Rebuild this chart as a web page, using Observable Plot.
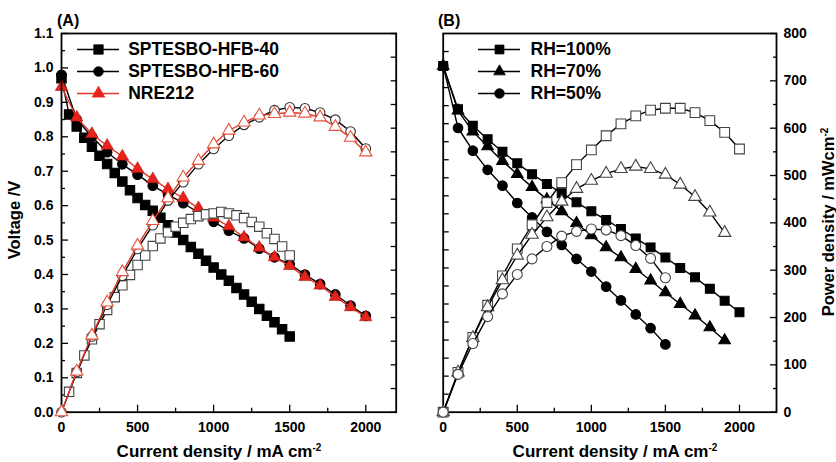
<!DOCTYPE html>
<html><head><meta charset="utf-8">
<script src="https://cdn.jsdelivr.net/npm/d3@7"></script>
<script src="https://cdn.jsdelivr.net/npm/@observablehq/plot@0.6"></script>
<style>
body{margin:0;background:#fff;}
#root{position:relative;width:836px;height:462px;overflow:hidden;font-family:"Liberation Sans",Arial,Helvetica,sans-serif;font-weight:bold;color:#000;}
.layer{position:absolute;top:0;}
.lbl{position:absolute;white-space:nowrap;font-size:16.5px;line-height:16px;}
.lbl sup{font-size:10px;vertical-align:6px;line-height:0;}
</style></head>
<body><div id="root"></div>
<script>
// ---------- Panel A data ----------
const hfb40Current = [0,50,100,150,200,250,300,350,400,450,500,550,600,650,700,750,800,850,900,950,1000,1050,1100,1150,1200,1250,1300,1350,1400,1450,1500];
const hfb40Voltage = [0.97,0.865,0.83,0.797,0.771,0.745,0.721,0.695,0.67,0.645,0.622,0.602,0.585,0.565,0.543,0.522,0.50,0.48,0.46,0.44,0.42,0.40,0.382,0.361,0.342,0.321,0.30,0.28,0.261,0.241,0.22];
const hfb40PowerCurrent = [50,100,150,200,250,300,350,400,450,500,550,600,650,700,750,800,850,900,950,1000,1050,1100,1150,1200,1250,1300,1350,1400,1450,1500];
const hfb40Power = [43,83,120,154,186,216,243,268,290,311,331,351,367,380,392,400,408,414,418,420,423,420,416,410,402,392,378,366,350,331];

const currentA = [0,100,200,300,400,500,600,700,800,900,1000,1100,1200,1300,1400,1500,1600,1700,1800,1900,2000];
const hfb60Voltage = [0.98,0.85,0.80,0.755,0.72,0.69,0.658,0.632,0.607,0.58,0.553,0.527,0.505,0.475,0.45,0.43,0.40,0.372,0.342,0.31,0.28];
const hfb60Power = [0,85,160,227,288,345,395,447,486,524,556,584,607,623,638,644,642,633,618,593,557];
const nreVoltage = [0.945,0.856,0.808,0.774,0.743,0.707,0.677,0.648,0.622,0.593,0.565,0.54,0.508,0.478,0.45,0.425,0.393,0.368,0.335,0.305,0.276];
const nrePower = [0,86,162,232,296,352,404,452,496,531,566,595,612,627,630,633,631,623,603,580,549];

// ---------- Panel B data ----------
const rh100Current = [0,100,200,300,400,500,600,700,800,900,1000,1100,1200,1300,1400,1500,1600,1700,1800,1900,2000];
const rh100Voltage = [0.96,0.84,0.794,0.757,0.722,0.69,0.66,0.633,0.607,0.582,0.557,0.533,0.508,0.482,0.457,0.429,0.40,0.374,0.342,0.309,0.277];
const rh100Power = [0,84,158,226,288,345,396,443,485,523,554,584,609,626,638,642,642,633,616,591,556];
const rh70Current = [0,100,200,300,400,500,600,700,800,900,1000,1100,1200,1300,1400,1500,1600,1700,1800,1900];
const rh70Voltage = [0.96,0.836,0.778,0.737,0.696,0.66,0.624,0.59,0.557,0.524,0.49,0.457,0.429,0.397,0.365,0.332,0.30,0.268,0.235,0.199];
const rh70Power = [0,84,157,222,279,331,375,412,445,472,489,504,514,519,514,502,481,455,422,379];
const rh50Current = [0,100,200,300,400,500,600,700,800,900,1000,1100,1200,1300,1400,1500];
const rh50Voltage = [0.96,0.788,0.725,0.672,0.628,0.58,0.54,0.50,0.464,0.425,0.39,0.348,0.31,0.271,0.233,0.188];
const rh50Power = [0,80,145,202,250,291,324,350,372,382,387,385,373,352,325,284];

// ---------- ticks & labels ----------
const xTicksMajor = [0,500,1000,1500,2000];
const xTicksMinor = [250,750,1250,1750];
const voltTicksMajorA = [0,0.1,0.2,0.3,0.4,0.5,0.6,0.7,0.8,0.9,1.0,1.1];
const voltTicksMinorA = [0.05,0.15,0.25,0.35,0.45,0.55,0.65,0.75,0.85,0.95,1.05];
const voltTicksMajorB = [0.1,0.2,0.3,0.4,0.5,0.6,0.7,0.8,0.9,1.0];
const voltTicksMinorB = [0.05,0.15,0.25,0.35,0.45,0.55,0.65,0.75,0.85,0.95];
const powerTicksMajor = [0,100,200,300,400,500,600,700,800];
const powerTicksMinor = [50,150,250,350,450,550,650,750];
const legendA = ["SPTESBO-HFB-40","SPTESBO-HFB-60","NRE212"];
const legendB = ["RH=100%","RH=70%","RH=50%"];

// ---------- helpers ----------
const FONT = '"Liberation Sans", Arial, Helvetica, sans-serif';
const baseStyle = {background:"none", fontFamily:FONT, fontWeight:"bold", fontSize:"14px", color:"#000", overflow:"visible"};
const rows = (xs, ys) => xs.map((x, k) => ({x, y: ys[k]}));
const RED = "#e8231b";
const RED_LINE = "#e0382a";
const RED_OPEN = "#e8553f";

function series(data, o) {
  return [
    Plot.line(data, {x:"x", y:"y", stroke:o.line, strokeWidth:1.4}),
    Plot.dot(data, {x:"x", y:"y", symbol:o.symbol, r:o.r, fill:o.fill, stroke:o.stroke, strokeWidth:o.sw ?? 1.1})
  ];
}
function ticksLeft(ticks, size, labeled) {
  return Plot.axisY({anchor:"left", ticks, tickSize:size, dx:size, tickPadding:8, strokeWidth:1.3,
    label:null, ...(labeled ? {tickFormat: d3.format(".1f")} : {fill:"none"})});
}
function ticksRight(ticks, size, labeled) {
  return Plot.axisY({anchor:"right", ticks, tickSize:size, dx:-size, tickPadding:7, strokeWidth:1.3,
    label:null, ...(labeled ? {tickFormat: d => String(d)} : {fill:"none"})});
}
function ticksBottom(ticks, size, labeled) {
  return Plot.axisX({anchor:"bottom", ticks, tickSize:size, dy:-size, tickPadding:9.5, strokeWidth:1.3,
    label:null, ...(labeled ? {tickFormat: d => String(d)} : {fill:"none"})});
}
function place(svg, left) {
  svg.classList.add("layer");
  svg.style.left = left + "px";
  document.getElementById("root").appendChild(svg);
}
function label(html, css) {
  const d = document.createElement("div");
  d.className = "lbl";
  d.innerHTML = html;
  Object.assign(d.style, css);
  document.getElementById("root").appendChild(d);
}
function legend(names, styles, left, top) {
  const marks = [];
  names.forEach((n, k) => {
    const s = styles[k];
    marks.push(Plot.ruleY([n], {y:d=>d, x1:0, x2:1, stroke:s.line, strokeWidth:1.5}));
    marks.push(Plot.dot([n], {x:0.5, y:d=>d, symbol:s.symbol, r:s.r, fill:s.fill, stroke:s.fill, strokeWidth:0.8}));
    marks.push(Plot.text([n], {x:1, y:d=>d, text:d=>d, textAnchor:"start", dx:s.dx, fontSize:17.5, fontWeight:"bold", fill:"#000"}));
  });
  const svg = Plot.plot({width:260, height:70, margin:0, style:baseStyle,
    x:{domain:[0,1], range:[7,49], axis:null},
    y:{type:"point", domain:names, range:[12,57], padding:0, axis:null},
    marks});
  place(svg, left);
  svg.style.top = top + "px";
}

// ---------- Panel A ----------
const frameA = {width:418, height:462, marginLeft:61, marginRight:22.3, marginTop:33, marginBottom:50.3};
const stA40 = {symbol:"square", r:5.3, fill:"#000", stroke:"#000", line:"#000"};
const stA60 = {symbol:"circle", r:4.8, fill:"#000", stroke:"#000", line:"#000"};
const stNRE = {symbol:"triangle", r:4.6, fill:RED, stroke:"#b01810", line:RED_LINE, sw:0.6};

place(Plot.plot({...frameA, style:baseStyle,
  x:{domain:[0,2200]}, y:{domain:[0,1.1]},
  marks:[
    ticksBottom(xTicksMajor, 7, true), ticksBottom(xTicksMinor, 4, false),
    ticksLeft(voltTicksMajorA, 7, true), ticksLeft(voltTicksMinorA, 4, false),
    ...series(rows(hfb40Current, hfb40Voltage), stA40),
    ...series(rows(currentA, hfb60Voltage), stA60),
    ...series(rows(currentA, nreVoltage), stNRE),
    Plot.frame({stroke:"#000", strokeWidth:1.8})
  ]}), 0);

place(Plot.plot({...frameA, style:baseStyle,
  x:{domain:[0,2200], axis:null}, y:{domain:[0,800]},
  marks:[
    ticksRight(powerTicksMajor, 6, false), ticksRight(powerTicksMinor, 6, false),
    ...series(rows(hfb40PowerCurrent, hfb40Power), {symbol:"square", r:5.3, fill:"#fff", stroke:"#444", line:"#000"}),
    ...series(rows(currentA, hfb60Power), {symbol:"circle", r:4.8, fill:"#fff", stroke:"#333", line:"#000"}),
    ...series(rows(currentA, nrePower), {symbol:"triangle", r:4.6, fill:"#fff", stroke:RED_OPEN, line:RED_LINE})
  ]}), 0);

legend(legendA, [
  {...stA40, dx:8.7}, {...stA60, dx:8.7}, {...stNRE, dx:8.7}
], 70, 36);

// ---------- Panel B ----------
const frameB = {width:418, height:462, marginLeft:24.7, marginRight:60, marginTop:33, marginBottom:50.3};
const stB100 = {symbol:"square", r:5.0, fill:"#000", stroke:"#000", line:"#000"};
const stB70 = {symbol:"triangle", r:4.3, fill:"#000", stroke:"#000", line:"#000"};
const stB50 = {symbol:"circle", r:4.8, fill:"#000", stroke:"#000", line:"#000"};

place(Plot.plot({...frameB, style:baseStyle,
  x:{domain:[0,2250]}, y:{domain:[0,1.05]},
  marks:[
    ticksBottom(xTicksMajor, 7, true), ticksBottom(xTicksMinor, 4, false),
    ticksLeft(voltTicksMajorB, 6, false), ticksLeft(voltTicksMinorB, 6, false),
    ...series(rows(rh100Current, rh100Voltage), stB100),
    ...series(rows(rh70Current, rh70Voltage), stB70),
    ...series(rows(rh50Current, rh50Voltage), stB50),
    Plot.frame({stroke:"#000", strokeWidth:1.8})
  ]}), 418);

place(Plot.plot({...frameB, style:baseStyle,
  x:{domain:[0,2250], axis:null}, y:{domain:[0,800]},
  marks:[
    ticksRight(powerTicksMajor, 7, true), ticksRight(powerTicksMinor, 4, false),
    ...series(rows(rh100Current, rh100Power), {symbol:"square", r:5.5, fill:"#fff", stroke:"#444", line:"#000"}),
    ...series(rows(rh70Current, rh70Power), {symbol:"triangle", r:4.6, fill:"#fff", stroke:"#444", line:"#000"}),
    ...series(rows(rh50Current, rh50Power), {symbol:"circle", r:5.0, fill:"#fff", stroke:"#444", line:"#000"})
  ]}), 418);

legend(legendB, [
  {...stB100, dx:10}, {...stB70, dx:10}, {...stB50, dx:10}
], 471, 36);

// ---------- titles & axis labels ----------
label("(A)", {left:"57px", top:"13px", fontSize:"16px"});
label("(B)", {left:"438px", top:"13px", fontSize:"16px"});
label("Current density / mA cm<sup>-2</sup>", {left:"219px", top:"444px", fontSize:"17px", transform:"translateX(-50%)"});
label("Current density / mA cm<sup>-2</sup>", {left:"615px", top:"444px", fontSize:"17px", transform:"translateX(-50%)"});
label("Voltage /V", {left:"14px", top:"220px", transform:"translate(-50%,-50%) rotate(-90deg)"});
label("Power density / mWcm<sup>-2</sup>", {left:"828px", top:"222px", transform:"translate(-50%,-50%) rotate(-90deg)"});
</script></body></html>
